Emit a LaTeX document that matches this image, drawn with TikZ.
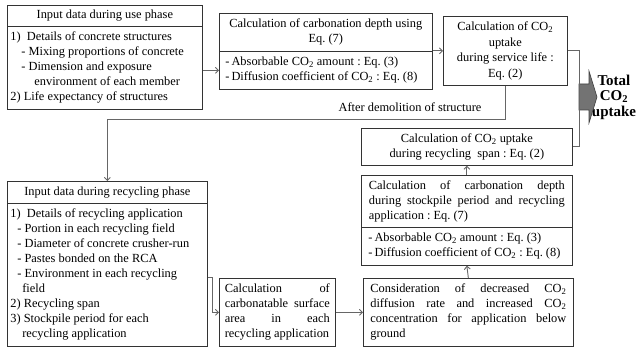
\documentclass[tikz,border=0pt]{standalone}
\usepackage{fontspec}
\setmainfont{Liberation Serif}
\usetikzlibrary{arrows.meta}
\newcommand\fs{\fontsize{12.4}{15}\selectfont\frenchspacing\parindent=0pt\relax}
\newcommand\jl[2]{\makebox[#1][s]{#2}}
\begin{document}
\begin{tikzpicture}[x=1pt,y=-1pt,
  box/.style={draw=black!80, line width=0.7pt, anchor=north west, inner ysep=0pt, font=\fs, align=justify},
  conn/.style={draw=black!60, line width=0.9pt},
  arr/.style={conn, -{Straight Barb[length=3pt,width=6pt]}},
  bigarrow/.style={fill=black!55, draw=black!75, line width=0.6pt},
  total/.style={font=\fontsize{15}{15.5}\selectfont\bfseries, align=center},
  lbl/.style={font=\fs}
]
\useasboundingbox (0,0) rectangle (638,350);

% use phase input
\node[box, minimum width=195pt, minimum height=21pt, text width=189pt, inner xsep=3pt] (uah) at (7,5)
 {\centering Input data during use phase\par};
\node[box, minimum width=195pt, minimum height=83pt, text width=189pt, inner xsep=3pt] (uab) at (7,26)
 {1)\ \ Details of concrete structures\\
  \hspace*{11pt}- Mixing proportions of concrete\\
  \hspace*{11pt}- Dimension and exposure\\
  \hspace*{24pt}environment of each member\\
  2) Life expectancy of structures\par};

% carbonation depth (use phase)
\node[box, minimum width=213pt, minimum height=38pt, text width=201pt, inner xsep=6pt] (cdh) at (219,13)
 {\centering Calculation of carbonation depth using\\ Eq. (7)\par};
\node[box, minimum width=213pt, minimum height=38pt, text width=201pt, inner xsep=6pt] (cdb) at (219,51)
 {-\,Absorbable CO\textsubscript{2} amount : Eq. (3)\\
  -\,Diffusion coefficient of CO\textsubscript{2} : Eq. (8)\par};

% uptake during service life
\node[box, minimum width=124pt, minimum height=69pt, text width=116pt, inner xsep=4pt,
      font=\fs\fontsize{12.4}{15.5}\selectfont] (sl) at (443,16)
 {\centering Calculation of CO\textsubscript{2}\\ uptake\\ during service life :\\ Eq. (2)\par};

% uptake during recycling span
\node[box, minimum width=211pt, minimum height=37pt, text width=201pt, inner xsep=5pt] (rs) at (361,128)
 {\centering Calculation of CO\textsubscript{2} uptake\\ during recycling\ \ span : Eq. (2)\par};

% carbonation depth (recycling)
\node[box, minimum width=211pt, minimum height=52pt, text width=196pt, inner xsep=7.5pt] (crh) at (361,175)
 {\jl{196pt}{Calculation of carbonation depth}\\
  \jl{196pt}{during stockpile period and recycling}\\
  application : Eq. (7)\par};
\node[box, minimum width=211pt, minimum height=38pt, text width=197pt, inner xsep=7pt] (crb) at (361,227)
 {-\,Absorbable CO\textsubscript{2} amount : Eq. (3)\\
  -\,Diffusion coefficient of CO\textsubscript{2} : Eq. (8)\par};

% consideration
\node[box, minimum width=210pt, minimum height=68pt, text width=196pt, inner xsep=7pt] (con) at (363,278)
 {\jl{196pt}{Consideration of decreased CO\textsubscript{2}}\\
  \jl{196pt}{diffusion rate and increased CO\textsubscript{2}}\\
  \jl{196pt}{concentration for application below}\\
  ground\par};

% carbonatable surface
\node[box, minimum width=116pt, minimum height=68pt, text width=105pt, inner xsep=5.5pt] (cs) at (219,278)
 {\jl{105pt}{Calculation of}\\
  \jl{105pt}{carbonatable surface}\\
  \jl{105pt}{area in each}\\
  recycling application\par};

% recycling phase input
\node[box, minimum width=200pt, minimum height=22pt, text width=194pt, inner xsep=3pt] (rih) at (7,181)
 {\centering Input data during recycling phase\par};
\node[box, minimum width=200pt, minimum height=143pt, text width=194pt, inner xsep=3pt] (rib) at (7,203)
 {1)\ \ Details of recycling application\\
  \hspace*{7pt}- Portion in each recycling field\\
  \hspace*{7pt}- Diameter of concrete crusher-run\\
  \hspace*{7pt}- Pastes bonded on the RCA\\
  \hspace*{7pt}- Environment in each recycling\\
  \hspace*{12pt}field\\
  2) Recycling span\\
  3) Stockpile period for each\\
  \hspace*{12pt}recycling application\par};

% labels
\node[lbl] (ad) at (410,107) {After demolition of structure};
\node[total] (tot) at (614,97) {Total\\ CO\textsubscript{2}\\ uptake};

% big arrow
\draw[bigarrow] (579,84) -- (589,84) -- (589,71) -- (597,97) -- (589,123) -- (589,110) -- (579,110) -- cycle;

% connectors
\coordinate (dm) at (0,119);
\coordinate (rt) at (0,277);
\draw[arr] (uab.east |- cdb.west) -- (cdb.west);
\draw[arr] (sl.west -| cdh.east) -- (sl.west);
\draw[arr] (sl.south) |- (rih.north |- dm) -- (rih.north);
\draw[conn] (sl.east) -- ++(12,0) |- (rs.east);
\draw[arr] (crh.north) -- (rs.south);
\draw[arr] (con.north) -- (crb.south);
\draw[arr] (cs.east) -- (con.west);
\draw[arr] (rib.east |- rt) -- ++(5,0) |- (cs.west);
\end{tikzpicture}
\end{document}
